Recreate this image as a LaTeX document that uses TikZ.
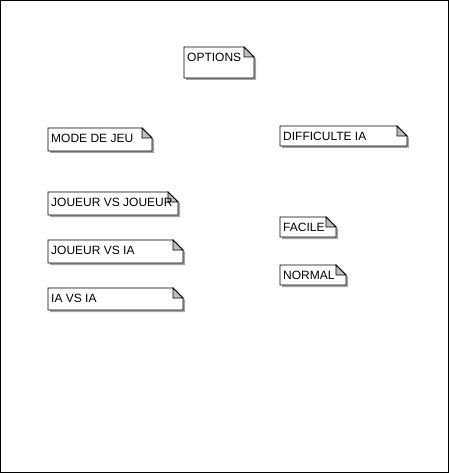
\documentclass[tikz,border=0pt]{standalone}
\usepackage{fontspec}
\setmainfont{Liberation Sans}
\begin{document}
\begin{tikzpicture}[x=1pt,y=-1pt,
  notebd/.style={draw=black, line width=0.8pt, fill=white},
  notesh/.style={fill=black!35},
  notefold/.style={draw=black, line width=0.8pt, fill=black!25},
  notetext/.style={anchor=base west, inner sep=0pt, font=\fontsize{12}{14}\selectfont}]
\newcommand\mynote[6]{%
  \fill[notesh] (#2+2,#3+2) -- (#4-8,#3+2) -- (#4+2,#3+12) -- (#4+2,#5+2) -- (#2+2,#5+2) -- cycle;
  \draw[notebd] (#2,#3) -- (#4-10,#3) -- (#4,#3+10) -- (#4,#5) -- (#2,#5) -- cycle;
  \draw[notefold] (#4-10,#3) -- (#4-10,#3+10) -- (#4,#3+10) -- cycle;
  \node[notetext] (#1) at (#2+3,#3+14.5) {#6};
}
\useasboundingbox (0,0) rectangle (449,473);
\draw[line width=1pt] (0.5,0.5) rectangle (448.5,472.5);
\mynote{options}{184}{47}{254}{78}{OPTIONS}
\mynote{mode}{48}{128}{152}{151}{MODE DE JEU}
\mynote{diff}{280}{126}{407}{146}{DIFFICULTE IA}
\mynote{jvj}{48}{192}{178}{215}{JOUEUR VS JOUEUR}
\mynote{jvia}{48}{240}{183}{263}{JOUEUR VS IA}
\mynote{iavia}{48}{288}{183}{310}{IA VS IA}
\mynote{facile}{280}{217}{336}{237}{FACILE}
\mynote{normal}{280}{265}{346}{285}{NORMAL}
\end{tikzpicture}
\end{document}
